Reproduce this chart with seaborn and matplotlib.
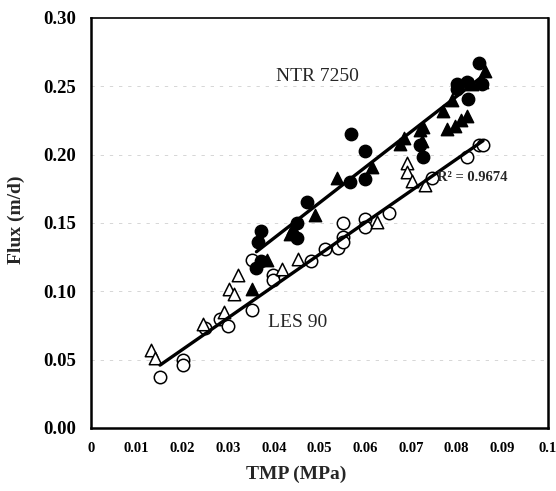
import numpy as np
import pandas as pd
import matplotlib
matplotlib.use("Agg")
import matplotlib.pyplot as plt
import seaborn as sns

# LES 90 - open circles
les_circ_x = [0.0151, 0.0202, 0.0202, 0.0249, 0.0282, 0.0300, 0.0352, 0.0352, 0.0399, 0.0399,
              0.0481, 0.0512, 0.0541, 0.0551, 0.0551, 0.0552, 0.0600, 0.0600, 0.0651, 0.0746,
              0.0822, 0.0848, 0.0858]
les_circ_y = [0.037, 0.050, 0.046, 0.073, 0.080, 0.075, 0.086, 0.123, 0.112, 0.108,
              0.122, 0.131, 0.132, 0.140, 0.136, 0.150, 0.153, 0.147, 0.157, 0.183,
              0.198, 0.207, 0.207]
# LES 90 - open triangles
les_tri_x = [0.0131, 0.0140, 0.0244, 0.0290, 0.0303, 0.0312, 0.0321, 0.0419, 0.0454, 0.0625,
             0.0691, 0.0691, 0.0702, 0.0731]
les_tri_y = [0.057, 0.051, 0.076, 0.085, 0.102, 0.098, 0.112, 0.116, 0.124, 0.151,
             0.194, 0.187, 0.181, 0.178]
# NTR 7250 - filled circles
ntr_circ_x = [0.0362, 0.0366, 0.0373, 0.0373, 0.0450, 0.0450, 0.0472, 0.0567, 0.0570, 0.0600,
              0.0600, 0.0720, 0.0727, 0.0800, 0.0800, 0.0822, 0.0826, 0.0848, 0.0855]
ntr_circ_y = [0.117, 0.136, 0.122, 0.144, 0.150, 0.139, 0.165, 0.180, 0.215, 0.203,
              0.182, 0.207, 0.198, 0.252, 0.248, 0.253, 0.241, 0.267, 0.252]
# NTR 7250 - filled triangles
ntr_tri_x = [0.0352, 0.0385, 0.0435, 0.0443, 0.0490, 0.0538, 0.0614, 0.0676, 0.0684, 0.0720,
             0.0724, 0.0727, 0.0771, 0.0778, 0.0789, 0.0796, 0.0810, 0.0822, 0.0833, 0.0855,
             0.0862]
ntr_tri_y = [0.102, 0.123, 0.142, 0.146, 0.156, 0.183, 0.191, 0.208, 0.212, 0.218,
             0.210, 0.220, 0.232, 0.219, 0.240, 0.221, 0.225, 0.228, 0.252, 0.253,
             0.261]

x_ticks = [0, 0.01, 0.02, 0.03, 0.04, 0.05, 0.06, 0.07, 0.08, 0.09, 0.1]
x_tick_labels = ["0", "0.01", "0.02", "0.03", "0.04", "0.05", "0.06", "0.07", "0.08", "0.09", "0.1"]
y_ticks = [0.0, 0.05, 0.10, 0.15, 0.20, 0.25, 0.30]
y_tick_labels = ["0.00", "0.05", "0.10", "0.15", "0.20", "0.25", "0.30"]

sns.set_style("white")
plt.rcParams['font.family'] = ['Liberation Serif', 'DejaVu Serif']

fig = plt.figure(figsize=(5.56, 4.91), dpi=100)
ax = fig.add_axes([91 / 556, 1 - 428 / 491, (548 - 91) / 556, (428 - 18) / 491])

# faint dashed horizontal guide lines
for yv in y_ticks[1:-1]:
    ax.axhline(yv, color='#d0d0d0', lw=0.6, ls=(0, (4, 7)), zorder=0)

ms = 80
sns.scatterplot(x=les_circ_x, y=les_circ_y, marker='o', s=ms, color='white',
                edgecolor='black', linewidth=1.1, ax=ax, zorder=2)
sns.scatterplot(x=les_tri_x, y=les_tri_y, marker='^', s=ms, color='white',
                edgecolor='black', linewidth=1.1, ax=ax, zorder=2)
sns.scatterplot(x=ntr_circ_x, y=ntr_circ_y, marker='o', s=ms, color='black',
                edgecolor='black', linewidth=1.0, ax=ax, zorder=2)
sns.scatterplot(x=ntr_tri_x, y=ntr_tri_y, marker='^', s=ms, color='black',
                edgecolor='black', linewidth=1.0, ax=ax, zorder=2)

# trend lines fitted over the circle series of each membrane
sns.regplot(x=les_circ_x, y=les_circ_y, scatter=False, ci=None, truncate=True, color='black',
            line_kws={'lw': 2.4, 'zorder': 3}, ax=ax)
sns.regplot(x=ntr_circ_x, y=ntr_circ_y, scatter=False, ci=None, truncate=True, color='black',
            line_kws={'lw': 2.4, 'zorder': 3}, ax=ax)

ax.set_xlim(0, 0.1)
ax.set_ylim(0, 0.30)
ax.set_xticks(x_ticks)
ax.set_xticklabels(x_tick_labels, fontsize=10.5, fontweight='bold')
ax.set_yticks(y_ticks)
ax.set_yticklabels(y_tick_labels, fontsize=13.5, fontweight='bold')
ax.tick_params(axis='both', direction='inout', length=10, width=1.8, colors='black')
ax.tick_params(axis='y', pad=6)
ax.tick_params(axis='x', pad=5)
ax.set_xlabel("")
ax.set_ylabel("")
for sp in ax.spines.values():
    sp.set_visible(True)
    sp.set_color('black')
    sp.set_linewidth(1.8)
ax.spines['top'].set_linewidth(1.2)

ax.text(0.0405, 0.257, "NTR 7250", fontsize=14, ha='left', va='center')
ax.text(0.0387, 0.077, "LES 90", fontsize=14, ha='left', va='center')
ax.text(0.0758, 0.183, "R² = 0.9674", fontsize=10.5, fontweight='bold', ha='left', va='center',
        zorder=5)

fig.text(296 / 556, 1 - 474 / 491, "TMP (MPa)", fontsize=14, fontweight='bold',
         ha='center', va='center')
fig.text(16 / 556, 1 - 220 / 491, "Flux (m/d)", fontsize=14, fontweight='bold',
         ha='center', va='center', rotation=90)

fig.savefig("out.png", dpi=100)
